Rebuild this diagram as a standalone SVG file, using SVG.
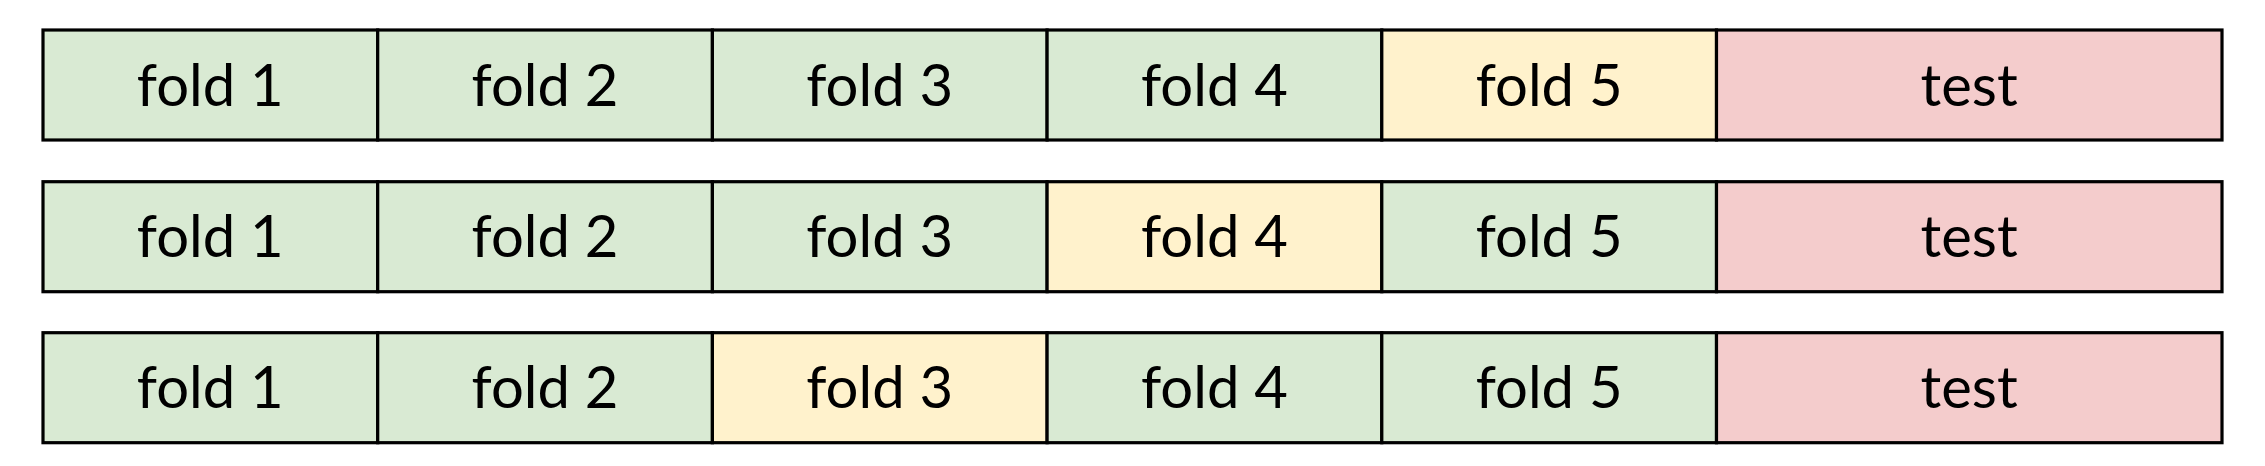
<svg xmlns="http://www.w3.org/2000/svg" width="2265" height="466" viewBox="0 0 2265 466">
<style>
rect{stroke:#000;stroke-width:3.2}
.g{fill:#d9ead3}.y{fill:#fff2cc}.r{fill:#f4cccc}
text{font-family:Lato,"Open Sans",sans-serif;font-size:58px;fill:#000;text-anchor:middle}
</style>
<rect width="2265" height="466" fill="#fff" style="stroke:none"/>
<g id="row1">
<g id="r1f1"><rect class="g" x="43" y="30" width="334.7" height="110"/><text x="210.3" y="106">fold 1</text></g>
<g id="r1f2"><rect class="g" x="377.7" y="30" width="334.7" height="110"/><text x="545" y="106">fold 2</text></g>
<g id="r1f3"><rect class="g" x="712.4" y="30" width="334.7" height="110"/><text x="879.7" y="106">fold 3</text></g>
<g id="r1f4"><rect class="g" x="1047.1" y="30" width="334.7" height="110"/><text x="1214.4" y="106">fold 4</text></g>
<g id="r1f5"><rect class="y" x="1381.8" y="30" width="334.7" height="110"/><text x="1549.1" y="106">fold 5</text></g>
<g id="r1t"><rect class="r" x="1716.5" y="30" width="505.5" height="110"/><text x="1969.2" y="106">test</text></g>
</g>
<g id="row2">
<g id="r2f1"><rect class="g" x="43" y="181.7" width="334.7" height="110"/><text x="210.3" y="257">fold 1</text></g>
<g id="r2f2"><rect class="g" x="377.7" y="181.7" width="334.7" height="110"/><text x="545" y="257">fold 2</text></g>
<g id="r2f3"><rect class="g" x="712.4" y="181.7" width="334.7" height="110"/><text x="879.7" y="257">fold 3</text></g>
<g id="r2f4"><rect class="y" x="1047.1" y="181.7" width="334.7" height="110"/><text x="1214.4" y="257">fold 4</text></g>
<g id="r2f5"><rect class="g" x="1381.8" y="181.7" width="334.7" height="110"/><text x="1549.1" y="257">fold 5</text></g>
<g id="r2t"><rect class="r" x="1716.5" y="181.7" width="505.5" height="110"/><text x="1969.2" y="257">test</text></g>
</g>
<g id="row3">
<g id="r3f1"><rect class="g" x="43" y="332.7" width="334.7" height="110"/><text x="210.3" y="408">fold 1</text></g>
<g id="r3f2"><rect class="g" x="377.7" y="332.7" width="334.7" height="110"/><text x="545" y="408">fold 2</text></g>
<g id="r3f3"><rect class="y" x="712.4" y="332.7" width="334.7" height="110"/><text x="879.7" y="408">fold 3</text></g>
<g id="r3f4"><rect class="g" x="1047.1" y="332.7" width="334.7" height="110"/><text x="1214.4" y="408">fold 4</text></g>
<g id="r3f5"><rect class="g" x="1381.8" y="332.7" width="334.7" height="110"/><text x="1549.1" y="408">fold 5</text></g>
<g id="r3t"><rect class="r" x="1716.5" y="332.7" width="505.5" height="110"/><text x="1969.2" y="408">test</text></g>
</g>
<g id="connectors"/>
</svg>
